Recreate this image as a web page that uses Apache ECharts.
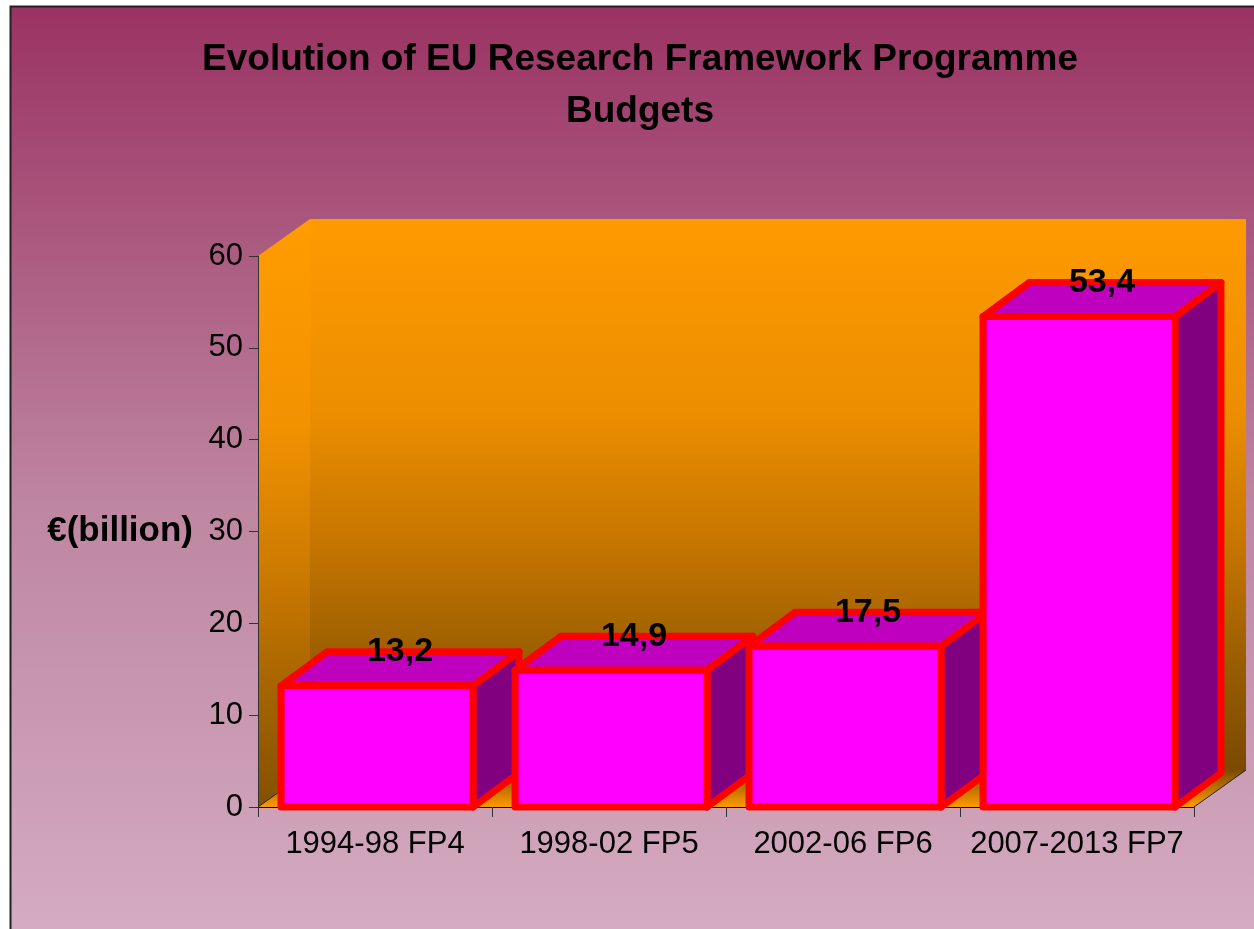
<!DOCTYPE html>
<html>
<head>
<meta charset="utf-8">
<title>Evolution of EU Research Framework Programme Budgets</title>
<script src="https://cdn.jsdelivr.net/npm/echarts@6/dist/echarts.min.js"></script>
<style>
html, body { margin: 0; padding: 0; background: #fff; }
#chart { width: 1254px; height: 929px; }
</style>
</head>
<body>
<div id="chart"></div>
<script>
var categories = ['1994-98 FP4', '1998-02 FP5', '2002-06 FP6', '2007-2013 FP7'];
var budgets = [13.2, 14.9, 17.5, 53.4];
var yMin = 0, yMax = 60, yStep = 10;

var FONT = '"Liberation Sans", Arial, sans-serif';
var WALL_DX = 52, WALL_DY = -37;  // depth of the plot box
var BAR_DX = 46, BAR_DY = -34;    // depth of each bar
var BAR_RATIO = 0.82;

function vgrad(stops) {
	return { type: 'linear', x: 0, y: 0, x2: 0, y2: 1, colorStops: stops };
}

// back wall, left wall and floor of the 3d box, taken from the grid rect
function renderWalls(params, api) {
	var cs = params.coordSys;
	var x0 = cs.x, x1 = cs.x + cs.width;
	var yt = cs.y, yb = cs.y + cs.height;
	var dx = WALL_DX, dy = WALL_DY;
	return {
		type: 'group',
		children: [
			{
				type: 'polygon',
				shape: { points: [[x0 + dx, yt + dy], [x1 + dx, yt + dy], [x1 + dx, yb + dy], [x0 + dx, yb + dy]] },
				style: { fill: vgrad([
					{ offset: 0, color: '#FF9A00' },
					{ offset: 0.35, color: '#EC8E00' },
					{ offset: 0.6, color: '#C47400' },
					{ offset: 0.8, color: '#9A5E00' },
					{ offset: 1, color: '#7A4A00' }
				]) }
			},
			{
				type: 'polygon',
				shape: { points: [[x0, yt], [x0 + dx, yt + dy], [x0 + dx, yb + dy], [x0, yb]] },
				style: { fill: vgrad([
					{ offset: 0, color: '#FF9C00' },
					{ offset: 0.35, color: '#F29200' },
					{ offset: 0.6, color: '#CC7A00' },
					{ offset: 0.8, color: '#A66400' },
					{ offset: 1, color: '#845000' }
				]) }
			},
			{
				type: 'polygon',
				shape: { points: [[x0, yb], [x1, yb], [x1 + dx, yb + dy], [x0 + dx, yb + dy]] },
				style: { fill: vgrad([
					{ offset: 0, color: '#7A4A00' },
					{ offset: 1, color: '#FF9900' }
				]) }
			},
			{
				type: 'polyline',
				shape: { points: [[x0, yb], [x0 + dx, yb + dy]] },
				style: { stroke: '#222', lineWidth: 1, fill: null }
			},
			{
				type: 'polyline',
				shape: { points: [[x1, yb], [x1 + dx, yb + dy]] },
				style: { stroke: '#222', lineWidth: 1, fill: null }
			}
		]
	};
}

function renderBar(params, api) {
	var idx = api.value(0);
	var v = api.value(1);
	var base = api.coord([idx, 0]);
	var top = api.coord([idx, v]);
	var w = api.size([1, 0])[0] * BAR_RATIO;
	var xl = base[0] - w / 2 + 2, xr = xl + w;
	var yb = base[1], yt = top[1];
	var dx = BAR_DX, dy = BAR_DY;
	var line = { stroke: '#FF0000', lineWidth: 7, lineJoin: 'round' };
	return {
		type: 'group',
		children: [
			{
				type: 'polygon',
				shape: { points: [[xr, yt], [xr + dx, yt + dy], [xr + dx, yb + dy], [xr, yb]] },
				style: Object.assign({ fill: '#800080' }, line)
			},
			{
				type: 'polygon',
				shape: { points: [[xl, yt], [xl + dx, yt + dy], [xr + dx, yt + dy], [xr, yt]] },
				style: Object.assign({ fill: '#BF00BF' }, line)
			},
			{
				type: 'polygon',
				shape: { points: [[xl, yt], [xr, yt], [xr, yb], [xl, yb]] },
				style: Object.assign({ fill: '#FF00FF' }, line)
			},
			{
				type: 'text',
				x: (xl + xr) / 2 + dx / 2,
				y: yt + dy,
				style: {
					text: String(v).replace('.', ','),
					fill: '#000',
					font: 'bold 34px ' + FONT,
					textAlign: 'center',
					textVerticalAlign: 'middle'
				}
			}
		]
	};
}

var chart = echarts.init(document.getElementById('chart'));
chart.setOption({
	animation: false,
	graphic: [
		{
			type: 'rect',
			z: -10,
			shape: { x: 10.5, y: 6.5, width: 1300, height: 1000 },
			style: {
				fill: vgrad([
					{ offset: 0, color: '#9A3262' },
					{ offset: 0.5, color: '#BE86A1' },
					{ offset: 1, color: '#D8B2C6' }
				]),
				stroke: '#222',
				lineWidth: 2
			}
		},
		{
			type: 'text',
			x: 640,
			y: 86,
			style: {
				text: 'Evolution of EU Research Framework Programme\nBudgets',
				fill: '#000',
				font: 'bold 37px ' + FONT,
				lineHeight: 52,
				textAlign: 'center',
				textVerticalAlign: 'middle'
			}
		}
	],
	grid: { left: 258, right: 60, top: 256, bottom: 122 },
	xAxis: {
		type: 'category',
		data: categories,
		axisLine: { lineStyle: { color: '#000', width: 1 } },
		axisTick: { show: true, interval: 0, length: 10, lineStyle: { color: '#333' } },
		axisLabel: { interval: 0, color: '#000', fontSize: 31, fontFamily: FONT, margin: 22 },
		z: 3
	},
	yAxis: {
		type: 'value',
		min: yMin,
		max: yMax,
		interval: yStep,
		name: '€(billion)',
		nameLocation: 'middle',
		nameRotate: 0,
		nameGap: 65,
		nameTextStyle: { color: '#000', fontSize: 35, fontWeight: 'bold', fontFamily: FONT },
		axisLine: { show: true, lineStyle: { color: '#333', width: 1 } },
		axisTick: { show: true, length: 9, lineStyle: { color: '#333' } },
		axisLabel: { color: '#000', fontSize: 31, fontFamily: FONT, margin: 15 },
		splitLine: { show: false }
	},
	series: [
		{
			type: 'custom',
			name: 'walls',
			z: -1,
			silent: true,
			renderItem: renderWalls,
			data: [[0, 0]]
		},
		{
			type: 'custom',
			name: 'budget',
			z: 5,
			renderItem: renderBar,
			encode: { x: 0, y: 1 },
			data: budgets.map(function (v, i) { return [i, v]; })
		}
	]
});
</script>
</body>
</html>
